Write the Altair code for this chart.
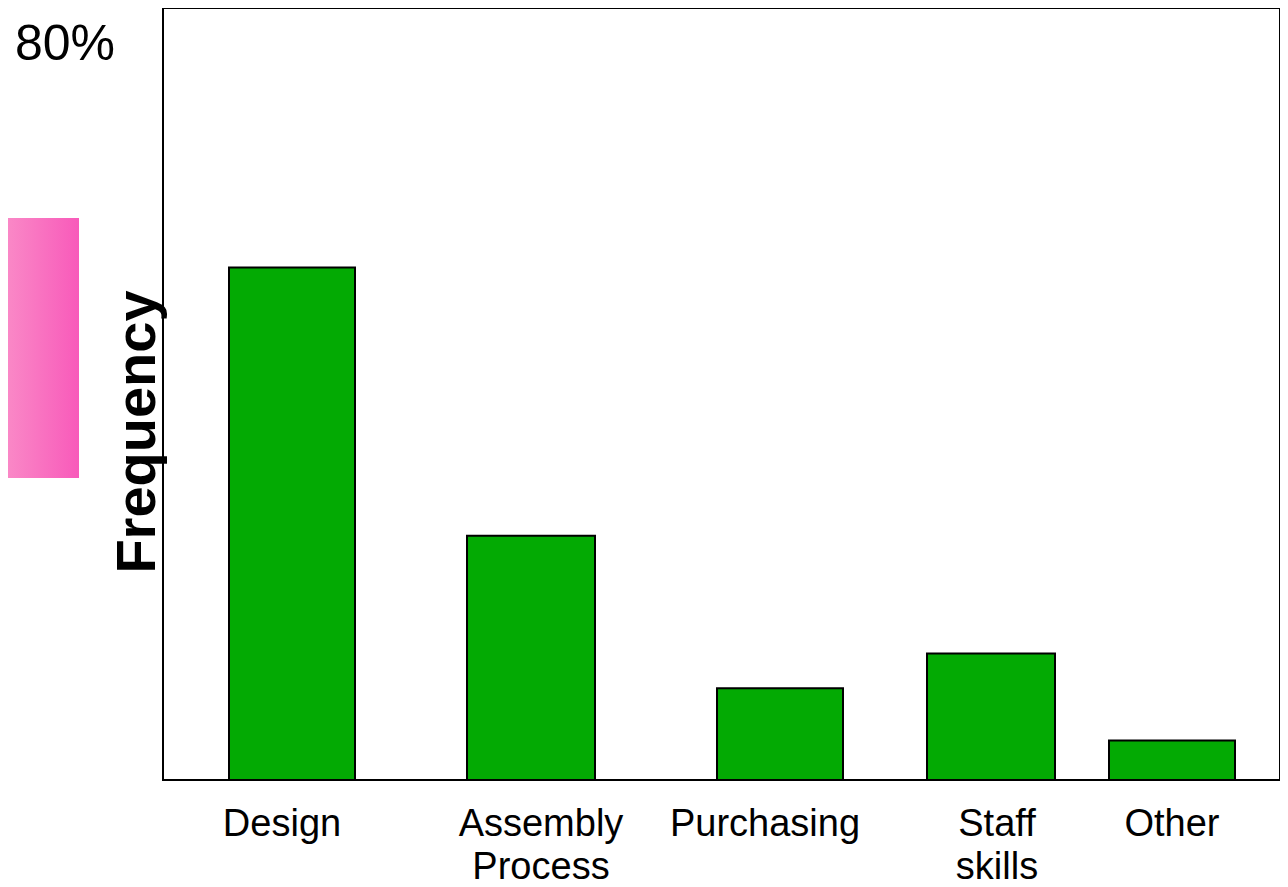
import altair as alt
import pandas as pd

# ---- data ----
categories = ["Design", "Assembly\nProcess", "Purchasing", "Staff\nskills", "Other"]
values = [53.1, 25.3, 9.5, 13.1, 4.1]          # percent
bar_left = [66, 304, 554, 764, 946]             # slot start (x units)
bar_right = [192, 432, 680, 892, 1072]          # slot end
label_center = [119, 378, 602, 834, 1009]       # label centre
y_max_label = "80%"
y_title = "Frequency"

df = pd.DataFrame({
    "category": categories,
    "value": values,
    "left": bar_left,
    "right": bar_right,
    "label_x": label_center,
})

FONT = "Liberation Sans"
W = 1117
xscale = alt.Scale(domain=[0, W], nice=False, zero=False)
yscale = alt.Scale(domain=[0, 80], nice=False)

bars = alt.Chart(df).mark_rect(
    color="#03AA03", stroke="black", strokeWidth=2
).encode(
    x=alt.X("left:Q", scale=xscale, axis=None),
    x2="right:Q",
    y=alt.Y("value:Q", scale=yscale, axis=None),
    y2=alt.datum(0),
)

labels = alt.Chart(df).mark_text(
    font=FONT, fontSize=38, baseline="top", align="center",
    lineBreak="\n", lineHeight=43, color="black"
).encode(
    x=alt.X("label_x:Q", scale=xscale, axis=None),
    y=alt.value(798),
    text="category:N",
)

one = pd.DataFrame({"t": [y_title], "p": [y_max_label]})

ytitle = alt.Chart(one).mark_text(
    font=FONT, fontSize=56, fontWeight="bold", angle=270,
    align="center", baseline="alphabetic", color="black"
).encode(x=alt.value(-8), y=alt.value(424), text="t:N")

pct = alt.Chart(one).mark_text(
    font=FONT, fontSize=50, align="left", baseline="alphabetic", color="black"
).encode(x=alt.value(-148), y=alt.value(52), text="p:N")

pink = alt.Chart(one).mark_rect(
    color=alt.LinearGradient(
        gradient="linear",
        stops=[alt.GradientStop(color="#FA8DC8", offset=0),
               alt.GradientStop(color="#F85ABA", offset=1)],
        x1=0, x2=1, y1=0, y2=0,
    )
).encode(x=alt.value(-163), x2=alt.value(-84), y=alt.value(210), y2=alt.value(470))

chart = alt.layer(pink, bars, labels, ytitle, pct).properties(
    width=W, height=772,
    autosize=alt.AutoSizeParams(type="none"),
    padding={"left": 155, "top": 0, "right": 0, "bottom": 99},
    background="white",
).configure_view(stroke="black", strokeWidth=2)

chart.save("out.html", embed_options={"renderer": "svg", "actions": False})
